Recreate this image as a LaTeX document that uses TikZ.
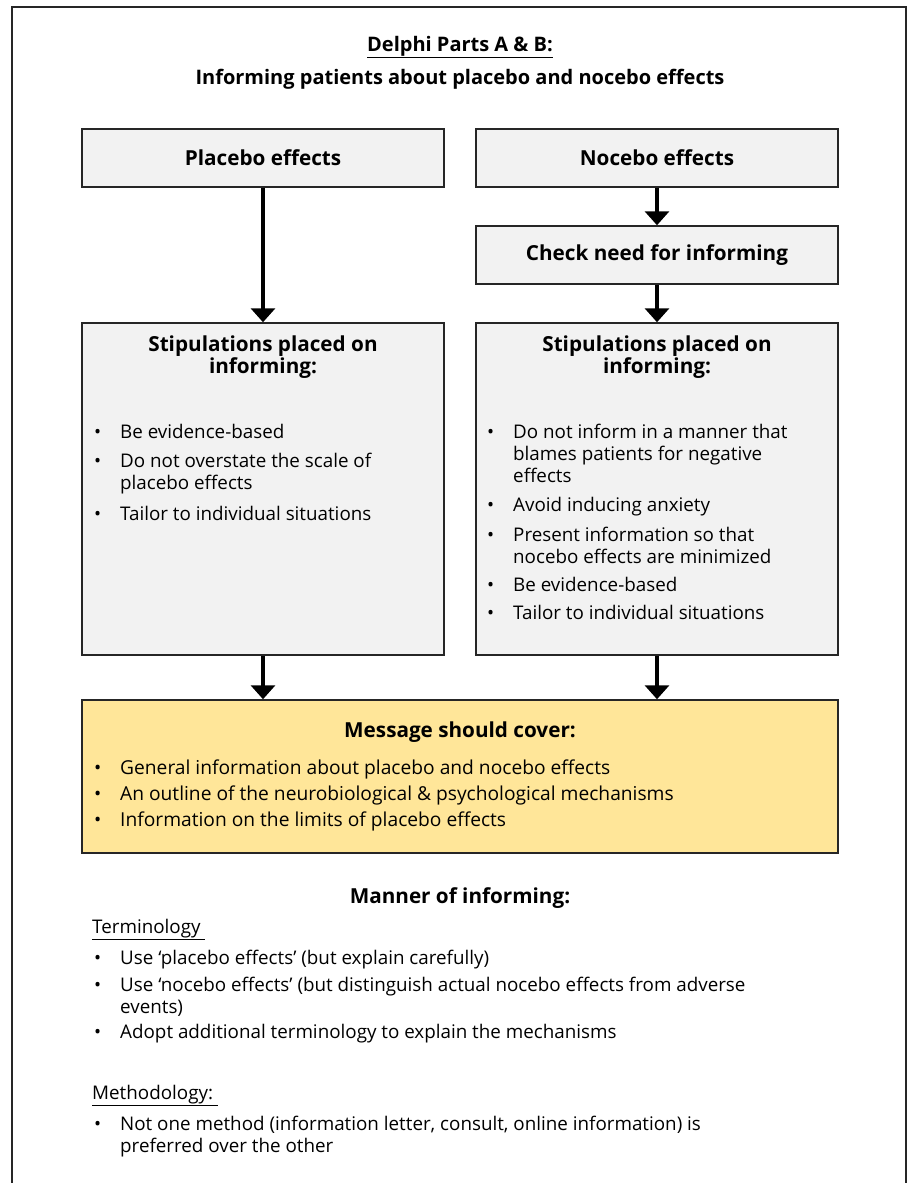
\documentclass[tikz,border=0pt]{standalone}
\usepackage{fontspec}
\setmainfont{Open Sans}
\usetikzlibrary{arrows.meta}
\definecolor{boxgray}{HTML}{F2F2F2}
\definecolor{msgyellow}{HTML}{FFE699}
\definecolor{edge}{HTML}{262626}
% one bullet point, lines after the first start with \\&
\newcommand{\bl}[1]{\begin{tabular}[t]{@{}p{26pt}@{}l@{}}•&#1\end{tabular}}
% centred heading over two lines
\newcommand{\hd}[1]{\begin{tabular}[t]{@{}c@{}}#1\end{tabular}}
\tikzset{
  box/.style={draw=edge, line width=1.5pt, fill=boxgray, inner sep=0pt, font=\bfseries\fontsize{20.7}{24}\selectfont},
  arr/.style={line width=4.5pt, -{Triangle[width=24pt,length=14pt]}},
  head/.style={anchor=base, inner sep=0pt, font=\bfseries\fontsize{20.7}{22}\selectfont},
  item/.style={anchor=base west, inner sep=0pt, font=\fontsize{18.8}{22.3}\selectfont},
}
\begin{document}
\begin{tikzpicture}[x=1pt, y=-1pt]
\useasboundingbox (0,0) rectangle (909,1183);

% open frame round the whole figure
\draw[edge, line width=1.2pt] (12,1190) -- (12,7) -- (906,7) -- (906,1190);

\node[name=title1, head, font=\bfseries\fontsize{20}{22}\selectfont] at (460,51) {\underline{Delphi Parts A \& B:}};
\node[name=title2, head, font=\bfseries\fontsize{20}{22}\selectfont] at (460,84) {Informing patients about placebo and nocebo effects};

\node[name=placebo, box, minimum width=362pt, minimum height=58pt] at (263,158) {Placebo effects};
\node[name=nocebo, box, minimum width=362pt, minimum height=58pt] at (657,158) {Nocebo effects};
\node[name=check, box, minimum width=362pt, minimum height=58pt] at (657,255) {Check need for informing};

\node[name=stipA, box, minimum width=362pt, minimum height=332pt] at (263,489) {};
\node[name=stipB, box, minimum width=362pt, minimum height=332pt] at (657,489) {};

\node[name=message, box, fill=msgyellow, minimum width=756pt, minimum height=153pt] at (460,776.5) {};

% left stipulations
\node[name=hA, head] at (263,351) {\hd{Stipulations placed on\\informing:}};
\node[name=iA1, item] at (94,438) {\bl{Be evidence-based}};
\node[name=iA2, item] at (94,467) {\bl{Do not overstate the scale of\\&placebo effects}};
\node[name=iA3, item] at (94,520) {\bl{Tailor to individual situations}};

% right stipulations
\node[name=hB, head] at (657,351) {\hd{Stipulations placed on\\informing:}};
\node[name=iB1, item] at (487,438) {\bl{Do not inform in a manner that\\&blames patients for negative\\&effects}};
\node[name=iB2, item] at (487,511) {\bl{Avoid inducing anxiety}};
\node[name=iB3, item] at (487,541) {\bl{Present information so that\\&nocebo effects are minimized}};
\node[name=iB4, item] at (487,591) {\bl{Be evidence-based}};
\node[name=iB5, item] at (487,619) {\bl{Tailor to individual situations}};

% message
\node[name=hM, head] at (460,737) {Message should cover:};
\node[name=iM1, item, font=\fontsize{19.2}{23}\selectfont] at (94,774) {\bl{General information about placebo and nocebo effects}};
\node[name=iM2, item, font=\fontsize{19.2}{23}\selectfont] at (94,800) {\bl{An outline of the neurobiological \& psychological mechanisms}};
\node[name=iM3, item, font=\fontsize{19.2}{23}\selectfont] at (94,826) {\bl{Information on the limits of placebo effects}};

% manner of informing
\node[name=hI, head] at (460,903) {Manner of informing:};
\node[name=term, item] at (92,933) {\underline{Terminology\ }};
\node[name=iT1, item] at (94,964) {\bl{Use ‘placebo effects’ (but explain carefully)}};
\node[name=iT2, item] at (94,991) {\bl{Use ‘nocebo effects’ (but distinguish actual nocebo effects from adverse\\&events)}};
\node[name=iT3, item] at (94,1038) {\bl{Adopt additional terminology to explain the mechanisms}};

\node[name=meth, item] at (92,1099) {\underline{Methodology:\ }};
\node[name=iT4, item] at (94,1130) {\bl{Not one method (information letter, consult, online information) is\\&preferred over the other}};

\draw[arr] (placebo) -- (stipA);
\draw[arr] (nocebo) -- (check);
\draw[arr] (check) -- (stipB);
\draw[arr] (stipA) -- (stipA |- message.north);
\draw[arr] (stipB) -- (stipB |- message.north);

\end{tikzpicture}
\end{document}
